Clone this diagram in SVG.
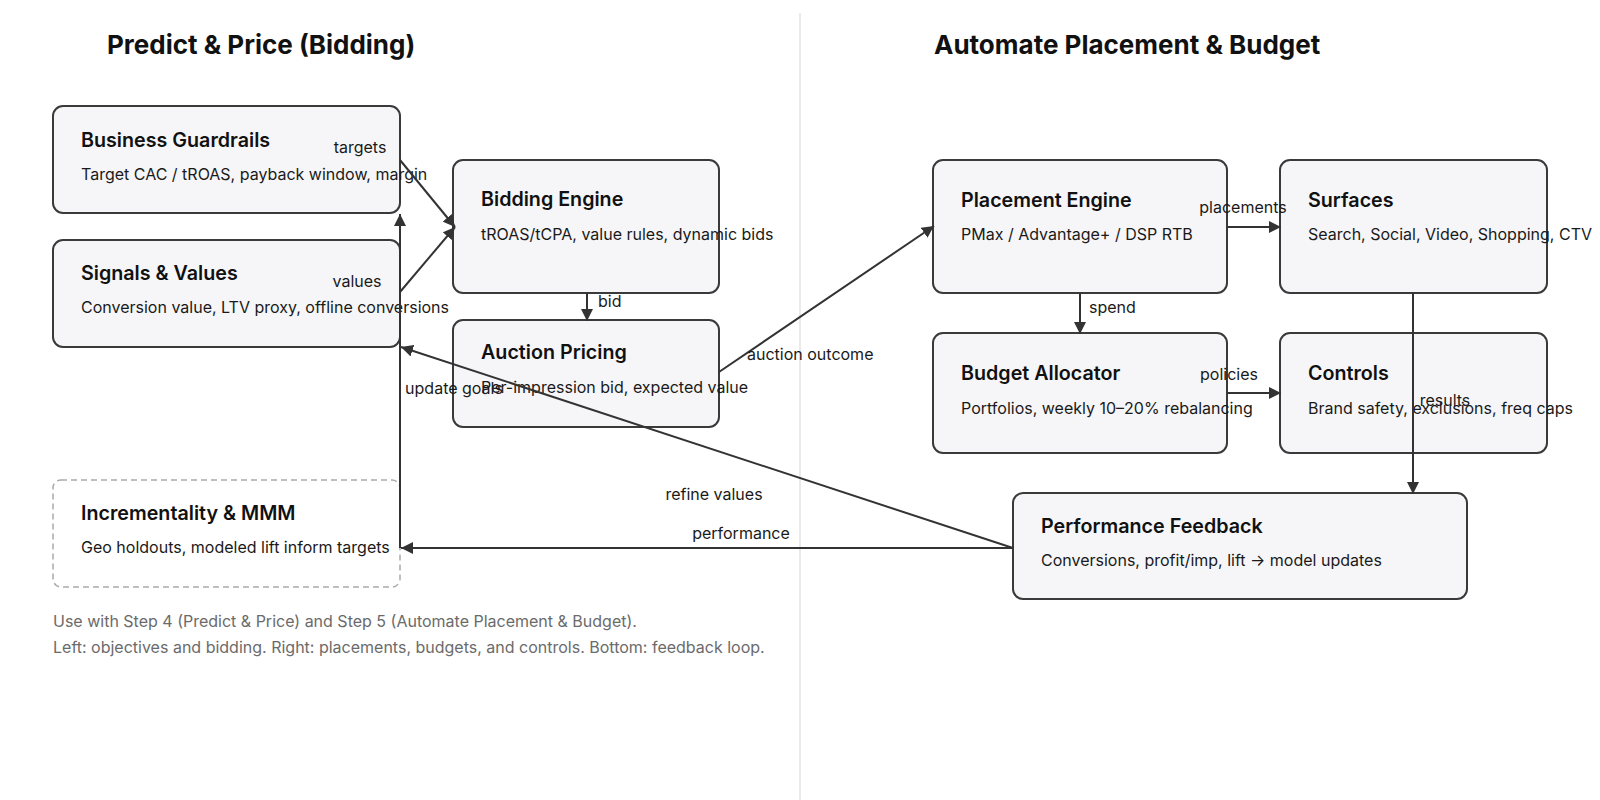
<svg xmlns="http://www.w3.org/2000/svg" width="1600" height="800" viewBox="0 0 1600 800">
<style>
text{font-family:Inter,"Noto Sans","Liberation Sans",sans-serif;}
.h{font-size:26px;font-weight:700;fill:#111;}
.box{fill:#f6f6f8;stroke:#3a3a3a;stroke-width:2;}
.dash{fill:#ffffff;stroke:#aaaaaa;stroke-width:1.5;stroke-dasharray:6 4;}
.t{font-size:19.7px;font-weight:600;fill:#111;}
.s{font-size:16px;fill:#1a1a1a;}
.l{font-size:16px;fill:#1a1a1a;}
.e{fill:none;stroke:#333;stroke-width:2;}
.note{font-size:16px;fill:#6b6b6b;}
</style>
<defs>
<marker id="arr" viewBox="0 0 12 12" refX="12" refY="6" markerWidth="12" markerHeight="12" markerUnits="userSpaceOnUse" orient="auto">
<path d="M0,0 L12,6 L0,12 z" fill="#333"/>
</marker>
</defs>
<rect width="1600" height="800" fill="#ffffff"/>
<line x1="800" y1="13" x2="800" y2="800" stroke="#e3e3e3" stroke-width="1.5"/>
<text class="h" x="107" y="54">Predict &amp; Price (Bidding)</text>
<text class="h" x="934" y="54">Automate Placement &amp; Budget</text>

<g id="business-guardrails">
<rect class="box" x="53" y="106" width="347" height="107" rx="10"/>
<text class="t" x="81" y="147">Business Guardrails</text>
<text class="s" x="81" y="180">Target CAC / tROAS, payback window, margin</text>
</g>
<g id="signals-values">
<rect class="box" x="53" y="240" width="347" height="107" rx="10"/>
<text class="t" x="81" y="280">Signals &amp; Values</text>
<text class="s" x="81" y="313">Conversion value, LTV proxy, offline conversions</text>
</g>
<g id="bidding-engine">
<rect class="box" x="453" y="160" width="266" height="133" rx="10"/>
<text class="t" x="481" y="206">Bidding Engine</text>
<text class="s" x="481" y="240">tROAS/tCPA, value rules, dynamic bids</text>
</g>
<g id="auction-pricing">
<rect class="box" x="453" y="320" width="266" height="107" rx="10"/>
<text class="t" x="481" y="359">Auction Pricing</text>
<text class="s" x="481" y="393">Per-impression bid, expected value</text>
</g>
<g id="incrementality-mmm">
<rect class="dash" x="53" y="480" width="347" height="107" rx="8"/>
<text class="t" x="81" y="520">Incrementality &amp; MMM</text>
<text class="s" x="81" y="553">Geo holdouts, modeled lift inform targets</text>
</g>
<g id="placement-engine">
<rect class="box" x="933" y="160" width="294" height="133" rx="10"/>
<text class="t" x="961" y="207">Placement Engine</text>
<text class="s" x="961" y="240">PMax / Advantage+ / DSP RTB</text>
</g>
<g id="surfaces">
<rect class="box" x="1280" y="160" width="267" height="133" rx="10"/>
<text class="t" x="1308" y="207">Surfaces</text>
<text class="s" x="1308" y="240">Search, Social, Video, Shopping, CTV</text>
</g>
<g id="budget-allocator">
<rect class="box" x="933" y="333" width="294" height="120" rx="10"/>
<text class="t" x="961" y="380">Budget Allocator</text>
<text class="s" x="961" y="414">Portfolios, weekly 10–20% rebalancing</text>
</g>
<g id="controls">
<rect class="box" x="1280" y="333" width="267" height="120" rx="10"/>
<text class="t" x="1308" y="380">Controls</text>
<text class="s" x="1308" y="414">Brand safety, exclusions, freq caps</text>
</g>
<g id="performance-feedback">
<rect class="box" x="1013" y="493" width="454" height="106" rx="10"/>
<text class="t" x="1041" y="533">Performance Feedback</text>
<text class="s" x="1041" y="566">Conversions, profit/imp, lift → model updates</text>
</g>

<g id="connectors">
<line class="e" x1="400" y1="160" x2="455" y2="227" marker-end="url(#arr)"/>
<line class="e" x1="400" y1="292" x2="455" y2="227" marker-end="url(#arr)"/>
<line class="e" x1="587" y1="293" x2="587" y2="321" marker-end="url(#arr)"/>
<line class="e" x1="719" y1="372" x2="934" y2="226" marker-end="url(#arr)"/>
<line class="e" x1="1227" y1="227" x2="1281" y2="227" marker-end="url(#arr)"/>
<line class="e" x1="1080" y1="293" x2="1080" y2="334" marker-end="url(#arr)"/>
<line class="e" x1="1227" y1="393" x2="1281" y2="393" marker-end="url(#arr)"/>
<line class="e" x1="1413" y1="293" x2="1413" y2="494" marker-end="url(#arr)"/>
<line class="e" x1="1013" y1="548" x2="401" y2="347" marker-end="url(#arr)"/>
<line class="e" x1="1013" y1="548" x2="401" y2="548" marker-end="url(#arr)"/>
<line class="e" x1="400" y1="548" x2="400" y2="214" marker-end="url(#arr)"/>
<text class="l" x="360" y="153" text-anchor="middle">targets</text>
<text class="l" x="357" y="287" text-anchor="middle">values</text>
<text class="l" x="598" y="307">bid</text>
<text class="l" x="747" y="360">auction outcome</text>
<text class="l" x="1243" y="213" text-anchor="middle">placements</text>
<text class="l" x="1089" y="313">spend</text>
<text class="l" x="1229" y="380" text-anchor="middle">policies</text>
<text class="l" x="1445" y="406" text-anchor="middle">results</text>
<text class="l" x="714" y="500" text-anchor="middle">refine values</text>
<text class="l" x="741" y="539" text-anchor="middle">performance</text>
<text class="l" x="454" y="394" text-anchor="middle">update goals</text>
</g>

<text class="note" x="53" y="627">Use with Step 4 (Predict &amp; Price) and Step 5 (Automate Placement &amp; Budget).</text>
<text class="note" x="53" y="653">Left: objectives and bidding. Right: placements, budgets, and controls. Bottom: feedback loop.</text>
</svg>
